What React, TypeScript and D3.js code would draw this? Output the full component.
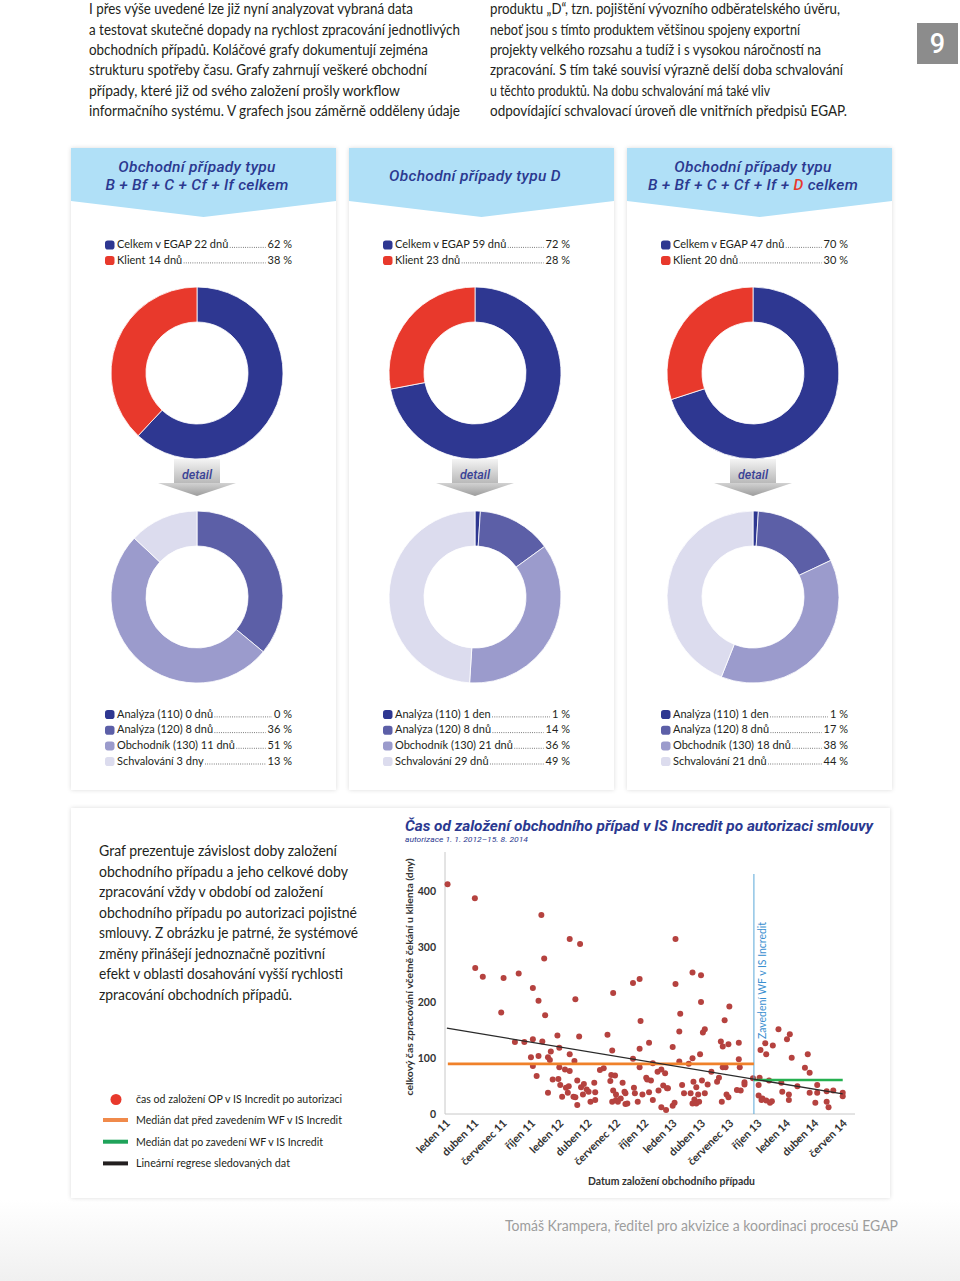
import React, { useEffect, useRef } from "react";
import * as d3 from "d3";

// ---------- DATA ----------
const introLeft = [
  "I přes výše uvedené lze již nyní analyzovat vybraná data",
  "a testovat skutečné dopady na rychlost zpracování jednotlivých",
  "obchodních případů. Koláčové grafy dokumentují zejména",
  "strukturu spotřeby času. Grafy zahrnují veškeré obchodní",
  "případy, které již od svého založení prošly workflow",
  "informačního systému. V grafech jsou záměrně odděleny údaje",
];
const introRight = [
  "produktu „D“, tzn. pojištění vývozního odběratelského úvěru,",
  "neboť jsou s tímto produktem většinou spojeny exportní",
  "projekty velkého rozsahu a tudíž i s vysokou náročností na",
  "zpracování. S tím také souvisí výrazně delší doba schvalování",
  "u těchto produktů. Na dobu schvalování má také vliv",
  "odpovídající schvalovací úroveň dle vnitřních předpisů EGAP.",
];
const pageNumber = "9";

const cardTitles = [
  [[{ t: "Obchodní případy typu" }], [{ t: "B + Bf + C + Cf + If celkem" }]],
  [[{ t: "Obchodní případy typu D" }]],
  [
    [{ t: "Obchodní případy typu" }],
    [{ t: "B + Bf + C + Cf + If + " }, { t: "D", red: true }, { t: " celkem" }],
  ],
];

const topLabels = [
  ["Celkem v EGAP 22 dnů", "Klient 14 dnů"],
  ["Celkem v EGAP 59 dnů", "Klient 23 dnů"],
  ["Celkem v EGAP 47 dnů", "Klient 20 dnů"],
];
const topValues = [
  [62, 38],
  [72, 28],
  [70, 30],
];
const topColors = ["#2e3791", "#e8392c"];

const detailLabels = [
  ["Analýza (110) 0 dnů", "Analýza (120) 8 dnů", "Obchodník (130) 11 dnů", "Schvalování 3 dny"],
  ["Analýza (110) 1 den", "Analýza (120) 8 dnů", "Obchodník (130) 21 dnů", "Schvalování 29 dnů"],
  ["Analýza (110) 1 den", "Analýza (120) 8 dnů", "Obchodník (130) 18 dnů", "Schvalování 21 dnů"],
];
const detailValues = [
  [0, 36, 51, 13],
  [1, 14, 36, 49],
  [1, 17, 38, 44],
];
const detailColors = ["#2e3791", "#5c5fa7", "#9b9bcc", "#dcdcee"];
const detailWord = "detail";

const bottomText = [
  "Graf prezentuje závislost doby založení",
  "obchodního případu a jeho celkové doby",
  "zpracování vždy v období od založení",
  "obchodního případu po autorizaci pojistné",
  "smlouvy. Z obrázku je patrné, že systémové",
  "změny přinášejí jednoznačně pozitivní",
  "efekt v oblasti dosahování vyšší rychlosti",
  "zpracování obchodních případů.",
];

const scatterTitle = "Čas od založení obchodního případ v IS Incredit po autorizaci smlouvy";
const scatterSubtitle = "autorizace 1. 1. 2012–15. 8. 2014";
const yAxisTitle = "celkový čas zpracování včetně čekání u klienta (dny)";
const xAxisTitle = "Datum založení obchodního případu";
const wfLabel = "Zavedení WF v IS Incredit";
const yTicks = [0, 100, 200, 300, 400];
const xTickLabels = [
  "leden 11", "duben 11", "červenec 11", "říjen 11", "leden 12", "duben 12", "červenec 12",
  "říjen 12", "leden 13", "duben 13", "červenec 13", "říjen 13", "leden 14", "duben 14", "červen 14",
];
// months since January 2011
const pointMonths = [
  0.07, 2.96, 3.0, 3.8, 5.75, 6.0, 7.2, 7.6, 8.2, 8.9, 9.1, 9.1, 9.1, 9.5, 9.7, 9.7, 10.0, 10.1, 10.3, 10.4,
  10.7, 10.7, 10.9, 11.0, 11.2, 11.7, 11.8, 11.9, 11.9, 12.0, 12.2, 12.5, 12.6, 12.8, 12.9, 13.0, 13.0, 13.0,
  13.4, 13.5, 13.6, 13.6, 13.8, 13.8, 14.0, 14.1, 14.2, 14.4, 14.5, 14.8, 15.0, 15.2, 15.6, 15.7, 15.7, 16.2,
  16.6, 17.0, 17.3, 17.4, 17.5, 17.5, 17.6, 17.6, 17.8, 17.9, 17.9, 18.1, 18.4, 18.6, 18.8, 18.9, 18.9, 19.1,
  19.7, 19.7, 19.8, 19.9, 20.2, 20.4, 20.4, 20.4, 20.5, 20.7, 21.1, 21.2, 21.4, 21.4, 21.6, 21.8, 21.8, 22.3,
  22.4, 22.7, 22.7, 22.9, 23.1, 23.2, 23.3, 23.4, 23.9, 23.9, 24.1, 24.2, 24.2, 24.6, 24.7, 24.6, 24.9, 25.1,
  25.6, 25.8, 26.0, 26.0, 26.0, 26.1, 26.2, 26.4, 26.4, 26.6, 26.7, 26.8, 26.9, 26.9, 27.0, 27.1, 27.3, 27.3,
  27.6, 28.0, 28.6, 28.8, 29.0, 29.1, 29.2, 29.2, 29.4, 29.5, 29.6, 29.8, 29.9, 29.8, 30.7, 30.9, 30.9, 31.0,
  31.1, 31.5, 31.5, 32.4, 33.0, 33.0, 33.1, 33.2, 33.3, 33.4, 33.7, 33.8, 33.8, 34.1, 34.2, 34.4, 34.5, 35.1,
  35.4, 35.5, 36.0, 36.2, 36.2, 36.3, 36.5, 37.1, 37.9, 38.2, 38.4, 38.4, 39.0, 39.2, 39.2, 40.2, 40.2, 40.4,
  40.9, 41.9, 41.9,
];
const pointDays = [
  412, 387, 262, 246, 182, 244, 129, 252, 129, 102, 134, 86, 226, 68, 203, 104, 357, 130, 279, 177,
  102, 38, 97, 112, 62, 141, 63, 119, 84, 52, 31, 80, 47, 38, 50, 314, 107, 77,
  31, 95, 206, 30, 60, 16, 139, 305, 48, 35, 54, 44, 40, 22, 56, 39, 25, 79,
  82, 142, 59, 70, 114, 22, 217, 42, 69, 35, 25, 22, 28, 56, 40, 37, 18, 19,
  235, 99, 47, 37, 22, 84, 242, 117, 167, 35, 65, 62, 128, 39, 60, 91, 25, 76,
  42, 80, 12, 51, 73, 7, 46, 46, 120, 15, 20, 314, 233, 148, 180, 94, 52, 37,
  90, 37, 254, 100, 19, 58, 26, 48, 19, 35, 22, 107, 249, 201, 60, 146, 152, 37,
  53, 76, 58, 65, 130, 22, 121, 84, 168, 84, 35, 125, 193, 30, 43, 128, 98, 84,
  42, 57, 53, 64, 52, 33, 65, 115, 25, 28, 127, 107, 24, 60, 20, 23, 123, 152,
  56, 40, 134, 35, 25, 143, 101, 50, 83, 107, 74, 38, 20, 52, 38, 41, 22, 12,
  42, 38, 32,
];
const wfMonth = 32.5;
const medianBefore = 90;
const medianAfter = 61;
const regressionStart = 154;
const regressionEnd = 36;
const regressionRange = [0, 41.9];
const medianRangeBefore = [0.1, wfMonth];
const medianRangeAfter = [wfMonth, 41.9];

const legendItems = [
  "čas od založení OP v IS Incredit po autorizaci",
  "Medián dat před zavedením WF v IS Incredit",
  "Medián dat po zavedení WF v IS Incredit",
  "Lineární regrese sledovaných dat",
];
const footer = "Tomáš Krampera, ředitel pro akvizice a koordinaci procesů EGAP";

// ---------- STYLE / LAYOUT ----------
const FONT = "Lato, 'Open Sans', sans-serif";
const TECH = "Roboto, 'DejaVu Sans', sans-serif";
const TEXT = "#231f20";
const NAVY = "#2b3990";

const introLeftW = [324, 371, 339, 338, 311, 371];
const introRightW = [350, 310, 331, 353, 280, 357];
const bottomTextW = [238, 249, 224, 258, 259, 226, 244, 193];
const legendW = [206, 206, 187, 154];

export default function App() {
  const ref = useRef<SVGSVGElement>(null);

  useEffect(() => {
    const svg = d3.select(ref.current as SVGSVGElement);
    svg.selectAll("*").remove();

    const defs = svg.append("defs");
    const f = defs.append("filter").attr("id", "sh").attr("x", "-10%").attr("y", "-10%").attr("width", "120%").attr("height", "120%");
    f.append("feDropShadow").attr("dx", 0).attr("dy", 0).attr("stdDeviation", 2.2).attr("flood-color", "#000").attr("flood-opacity", 0.14);

    const gBox = defs.append("linearGradient").attr("id", "gbox").attr("x1", 0).attr("y1", 0).attr("x2", 0).attr("y2", 1);
    gBox.append("stop").attr("offset", "0%").attr("stop-color", "#f4f4f4");
    gBox.append("stop").attr("offset", "100%").attr("stop-color", "#b9b9b9");
    const gHead = defs.append("linearGradient").attr("id", "ghead").attr("x1", 0).attr("y1", 0).attr("x2", 0).attr("y2", 1);
    gHead.append("stop").attr("offset", "0%").attr("stop-color", "#d2d2d2");
    gHead.append("stop").attr("offset", "100%").attr("stop-color", "#9c9c9c");
    const gFoot = defs.append("linearGradient").attr("id", "gfoot").attr("x1", 0).attr("y1", 0).attr("x2", 0).attr("y2", 1);
    gFoot.append("stop").attr("offset", "0%").attr("stop-color", "#ffffff");
    gFoot.append("stop").attr("offset", "100%").attr("stop-color", "#f0f0f0");

    svg.append("rect").attr("width", 960).attr("height", 1281).attr("fill", "#fff");
    svg.append("rect").attr("x", 0).attr("y", 1200).attr("width", 960).attr("height", 81).attr("fill", "url(#gfoot)");

    const para = (lines: string[], widths: number[], x: number, y0: number, lh: number, size: number, color: string) => {
      lines.forEach((l, i) => {
        svg.append("text")
          .attr("x", x).attr("y", y0 + i * lh)
          .attr("font-family", FONT).attr("font-size", size).attr("fill", color)
          .attr("textLength", widths[i]).attr("lengthAdjust", "spacingAndGlyphs")
          .text(l);
      });
    };

    // intro text
    para(introLeft, introLeftW, 89, 14.4, 20.3, 14.5, TEXT);
    para(introRight, introRightW, 490, 14.4, 20.3, 14.5, TEXT);

    // page number
    svg.append("rect").attr("x", 917).attr("y", 23).attr("width", 41).attr("height", 41).attr("fill", "#8c8c8c");
    svg.append("text").attr("x", 937.5).attr("y", 53).attr("text-anchor", "middle").attr("font-family", TECH)
      .attr("font-weight", 500).attr("font-size", 27).attr("fill", "#fff").text(pageNumber);

    // cards
    const cardXs = [71, 349, 627];
    const cardW = 265;
    const cardTop = 148;
    const cardBottom = 790;
    const contentOff = 126;

    const arcTop = d3.arc<d3.PieArcDatum<number>>().innerRadius(51).outerRadius(86);
    const arcBot = d3.arc<d3.PieArcDatum<number>>().innerRadius(51).outerRadius(86);
    const pie = d3.pie<number>().sort(null).value((d) => d);

    cardXs.forEach((cx0, ci) => {
      const g = svg.append("g");
      g.append("rect").attr("x", cx0).attr("y", cardTop).attr("width", cardW).attr("height", cardBottom - cardTop)
        .attr("fill", "#fff").attr("filter", "url(#sh)");
      const mid = cx0 + cardW / 2;
      g.append("polygon")
        .attr("points", [[cx0, cardTop], [cx0 + cardW, cardTop], [cx0 + cardW, 201], [mid, 217], [cx0, 201]].map((p) => p.join(",")).join(" "))
        .attr("fill", "#b0e0f7");
      const cx = cx0 + contentOff;

      // title
      const lines = cardTitles[ci];
      const ys = lines.length === 1 ? [181] : [171.5, 189.5];
      lines.forEach((segs, li) => {
        const t = g.append("text").attr("x", cx).attr("y", ys[li]).attr("text-anchor", "middle")
          .attr("font-family", TECH).attr("font-style", "italic").attr("font-weight", 500).attr("font-size", 15.5)
          .attr("letter-spacing", 0.3).attr("fill", NAVY);
        segs.forEach((s: any) => {
          t.append("tspan").attr("fill", s.red ? "#e8392c" : NAVY).text(s.t);
        });
      });

      // legend rows helper
      const legendRow = (y: number, color: string, label: string, pct: number) => {
        const lx = cx0 + 34;
        const rx = cx0 + 221;
        g.append("rect").attr("x", lx).attr("y", y - 7.5).attr("width", 9.5).attr("height", 9).attr("rx", 2.8).attr("fill", color);
        const lt = g.append("text").attr("x", lx + 12).attr("y", y).attr("font-family", FONT).attr("font-size", 11).attr("fill", TEXT).text(label);
        const pt = g.append("text").attr("x", rx).attr("y", y).attr("text-anchor", "end").attr("font-family", FONT).attr("font-size", 11).attr("fill", TEXT).text(`${pct} %`);
        const lw = (lt.node() as SVGTextElement).getComputedTextLength();
        const pw = (pt.node() as SVGTextElement).getComputedTextLength();
        const x1 = lx + 12 + lw + 1.5;
        const x2 = rx - pw - 2;
        if (x2 > x1) {
          g.append("line").attr("x1", x1).attr("x2", x2).attr("y1", y - 0.6).attr("y2", y - 0.6)
            .attr("stroke", "#333").attr("stroke-width", 0.8).attr("stroke-dasharray", "0.8 1.4");
        }
      };

      topLabels[ci].forEach((lab, i) => legendRow(248 + i * 15.5, topColors[i], lab, topValues[ci][i]));

      // top donut
      const dTop = g.append("g").attr("transform", `translate(${cx},373)`);
      dTop.selectAll("path").data(pie(topValues[ci])).join("path")
        .attr("d", arcTop as any).attr("fill", (_d, i) => topColors[i]).attr("stroke", "#fff").attr("stroke-width", 0.8);

      // detail arrow
      const ag = g.append("g");
      ag.append("rect").attr("x", cx - 23).attr("y", 459).attr("width", 46).attr("height", 24).attr("fill", "url(#gbox)");
      ag.append("polygon").attr("points", `${cx - 39},483 ${cx + 39},483 ${cx},496`).attr("fill", "url(#ghead)");
      ag.append("text").attr("x", cx).attr("y", 479).attr("text-anchor", "middle").attr("font-family", TECH)
        .attr("font-style", "italic").attr("font-weight", 500).attr("font-size", 12.5).attr("fill", "#3a4296").text(detailWord);

      // bottom donut
      const dBot = g.append("g").attr("transform", `translate(${cx},597)`);
      dBot.selectAll("path").data(pie(detailValues[ci])).join("path")
        .attr("d", arcBot as any).attr("fill", (_d, i) => detailColors[i]).attr("stroke", "#fff").attr("stroke-width", 0.8);

      detailLabels[ci].forEach((lab, i) => legendRow(717.5 + i * 15.7, detailColors[i], lab, detailValues[ci][i]));
    });

    // bottom card
    svg.append("rect").attr("x", 71).attr("y", 808).attr("width", 819).attr("height", 390).attr("fill", "#fff").attr("filter", "url(#sh)");
    para(bottomText, bottomTextW, 99, 856, 20.5, 14.5, TEXT);

    // scatter
    const x = d3.scaleLinear().domain([-0.2, 43.2]).range([445, 855]);
    const y = d3.scaleLinear().domain([0, 470]).range([1114, 852]);

    svg.append("text").attr("x", 405).attr("y", 831).attr("font-family", TECH).attr("font-style", "italic").attr("font-weight", 700)
      .attr("font-size", 14).attr("fill", NAVY).attr("textLength", 468).attr("lengthAdjust", "spacingAndGlyphs").text(scatterTitle);
    svg.append("text").attr("x", 405).attr("y", 841.5).attr("font-family", TECH).attr("font-style", "italic")
      .attr("font-size", 7.5).attr("fill", NAVY).attr("textLength", 123).attr("lengthAdjust", "spacingAndGlyphs").text(scatterSubtitle);

    svg.append("line").attr("x1", 445).attr("x2", 445).attr("y1", y(470)).attr("y2", y(0)).attr("stroke", "#c8c8c8").attr("stroke-width", 1);
    svg.append("line").attr("x1", 445).attr("x2", 855).attr("y1", y(0)).attr("y2", y(0)).attr("stroke", "#c8c8c8").attr("stroke-width", 1);

    yTicks.forEach((t) => {
      svg.append("text").attr("x", 436).attr("y", y(t) + 3.8).attr("text-anchor", "end").attr("font-family", FONT)
        .attr("font-weight", 700).attr("font-size", 10.5).attr("fill", "#333").text(t);
    });
    xTickLabels.forEach((lab, i) => {
      svg.append("text").attr("transform", `translate(${x(i * 3) + 4},1124) rotate(-45)`).attr("text-anchor", "end")
        .attr("font-family", FONT).attr("font-weight", 700).attr("font-size", 11).attr("fill", "#333").text(lab);
    });
    svg.append("text").attr("x", 671.5).attr("y", 1185).attr("text-anchor", "middle").attr("font-family", FONT)
      .attr("font-weight", 700).attr("font-size", 10.5).attr("fill", "#333").attr("textLength", 167).attr("lengthAdjust", "spacingAndGlyphs").text(xAxisTitle);
    svg.append("text").attr("transform", "translate(413,977) rotate(-90)").attr("text-anchor", "middle").attr("font-family", FONT)
      .attr("font-weight", 700).attr("font-size", 9.5).attr("fill", "#333").attr("textLength", 237).attr("lengthAdjust", "spacingAndGlyphs").text(yAxisTitle);

    const pts = pointMonths.map((m, i) => ({ m, v: pointDays[i] }));
    svg.append("g").selectAll("circle").data(pts).join("circle")
      .attr("cx", (d) => x(d.m)).attr("cy", (d) => y(d.v)).attr("r", 3).attr("fill", "#b5423f");

    svg.append("line").attr("x1", x(wfMonth)).attr("x2", x(wfMonth)).attr("y1", 874).attr("y2", y(0)).attr("stroke", "#5aa7d8").attr("stroke-width", 1);
    svg.append("text").attr("transform", `translate(766,1039) rotate(-90)`).attr("font-family", FONT).attr("font-size", 10.5)
      .attr("fill", "#3b8fd0").attr("textLength", 117).attr("lengthAdjust", "spacingAndGlyphs").text(wfLabel);

    svg.append("line").attr("x1", x(medianRangeBefore[0])).attr("x2", x(medianRangeBefore[1])).attr("y1", y(medianBefore)).attr("y2", y(medianBefore))
      .attr("stroke", "#f0812a").attr("stroke-width", 2.6);
    svg.append("line").attr("x1", x(medianRangeAfter[0])).attr("x2", x(medianRangeAfter[1])).attr("y1", y(medianAfter)).attr("y2", y(medianAfter))
      .attr("stroke", "#25b050").attr("stroke-width", 2.4);
    svg.append("line").attr("x1", x(regressionRange[0])).attr("x2", x(regressionRange[1])).attr("y1", y(regressionStart)).attr("y2", y(regressionEnd))
      .attr("stroke", "#2a2a2a").attr("stroke-width", 1.3);

    // legend
    svg.append("circle").attr("cx", 116).attr("cy", 1099.5).attr("r", 5.5).attr("fill", "#e8392c");
    const legColors = ["#f08a4b", "#1fa35a", "#231f20"];
    legColors.forEach((c, i) => {
      const ly = 1120 + i * 21.7;
      svg.append("line").attr("x1", 103).attr("x2", 128).attr("y1", ly).attr("y2", ly).attr("stroke", c).attr("stroke-width", 4);
    });
    legendItems.forEach((t, i) => {
      svg.append("text").attr("x", 136).attr("y", 1103 + i * 21.4).attr("font-family", FONT).attr("font-size", 11.5)
        .attr("fill", TEXT).attr("textLength", legendW[i]).attr("lengthAdjust", "spacingAndGlyphs").text(t);
    });

    // footer
    svg.append("text").attr("x", 505).attr("y", 1231).attr("font-family", FONT).attr("font-size", 14.5).attr("fill", "#9d9d9d")
      .attr("textLength", 393).attr("lengthAdjust", "spacingAndGlyphs").text(footer);
  }, []);

  return (
    <div style={{ position: "absolute", left: 0, top: 0, width: 960, height: 1281 }}>
      <svg ref={ref} width={960} height={1281} style={{ display: "block" }} />
    </div>
  );
}
